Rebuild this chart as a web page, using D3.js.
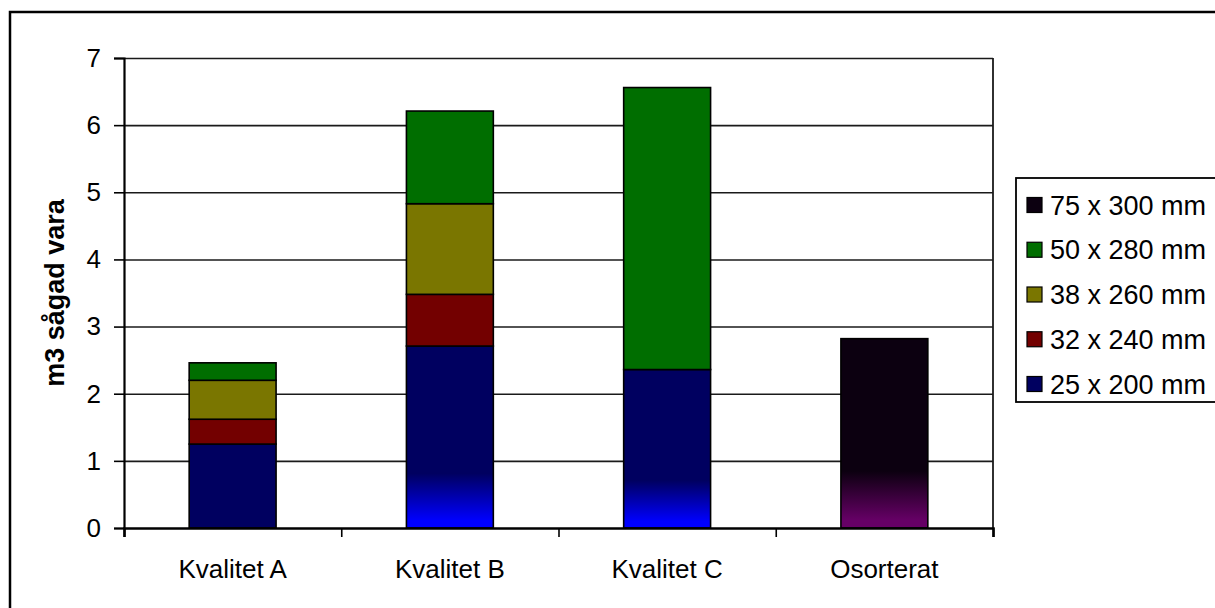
<!DOCTYPE html>
<html>
<head>
<meta charset="utf-8">
<script src="https://cdn.jsdelivr.net/npm/d3@7/dist/d3.min.js"></script>
<style>
  html, body { margin: 0; padding: 0; background: #fff; }
  svg { display: block; font-family: "Liberation Sans", Arial, sans-serif; }
</style>
</head>
<body>
<svg id="chart" width="1215" height="608"></svg>
<script>
// Sawn timber volume per quality class, stacked by board dimension
const categories = ["Kvalitet A", "Kvalitet B", "Kvalitet C", "Osorterat"];
const seriesNames = ["25 x 200 mm", "32 x 240 mm", "38 x 260 mm", "50 x 280 mm", "75 x 300 mm"];
const s25x200 = [1.25, 2.71, 2.36, 0];
const s32x240 = [0.37, 0.77, 0, 0];
const s38x260 = [0.58, 1.35, 0, 0];
const s50x280 = [0.26, 1.38, 4.20, 0];
const s75x300 = [0, 0, 0, 2.82];
const yTicks = [0, 1, 2, 3, 4, 5, 6, 7];
const yLabel = "m3 sågad vara";

const seriesValues = [s25x200, s32x240, s38x260, s50x280, s75x300];
const colors = ["#000060", "#730000", "#7a7600", "#006e00", "#0c0010"];
const glowColors = ["#0000ff", null, null, null, "#660066"];

const rows = categories.map((c, i) => {
  const r = { category: c };
  seriesNames.forEach((s, k) => { r[s] = seriesValues[k][i]; });
  return r;
});
const stacked = d3.stack().keys(seriesNames)(rows);

const svg = d3.select("#chart");
const plot = { left: 124, right: 993, top: 58, bottom: 528 };

// outer chart frame
svg.append("rect")
  .attr("x", 10).attr("y", 12).attr("width", 1230).attr("height", 620)
  .attr("fill", "none").attr("stroke", "#000").attr("stroke-width", 2.5);

const x = d3.scaleBand().domain(categories).range([plot.left, plot.right]).paddingInner(0).paddingOuter(0);
const y = d3.scaleLinear().domain([0, 7]).range([plot.bottom, plot.top]);

// gradients for tall base segments
const defs = svg.append("defs");
seriesNames.forEach((s, k) => {
  if (!glowColors[k]) return;
  const g = defs.append("linearGradient").attr("id", "glow" + k)
    .attr("x1", 0).attr("y1", 0).attr("x2", 0).attr("y2", 1);
  g.append("stop").attr("offset", 0).attr("stop-color", colors[k]);
  g.append("stop").attr("offset", 0.70).attr("stop-color", colors[k]);
  g.append("stop").attr("offset", 0.96).attr("stop-color", glowColors[k]);
  g.append("stop").attr("offset", 1).attr("stop-color", glowColors[k]);
});

// horizontal gridlines
svg.append("g")
  .attr("transform", `translate(${plot.left},0)`)
  .call(d3.axisLeft(y).tickValues(yTicks.filter(v => v > 0)).tickSize(-(plot.right - plot.left)).tickFormat(""))
  .call(g => g.select(".domain").remove())
  .call(g => g.selectAll("line").attr("stroke", "#1a1a1a").attr("stroke-width", 1.6));

// right edge of plot area
svg.append("line")
  .attr("x1", plot.right).attr("x2", plot.right).attr("y1", plot.top).attr("y2", plot.bottom)
  .attr("stroke", "#1a1a1a").attr("stroke-width", 1.8);

// stacked bars
const barW = x.bandwidth() * 0.4;
stacked.forEach((layer, k) => {
  svg.append("g").selectAll("rect")
    .data(layer.filter(d => d[1] - d[0] > 0))
    .join("rect")
    .attr("x", d => x(d.data.category) + (x.bandwidth() - barW) / 2)
    .attr("y", d => y(d[1]))
    .attr("width", barW)
    .attr("height", d => y(d[0]) - y(d[1]))
    .attr("fill", d => (glowColors[k] && d[0] === 0 && d[1] >= 2) ? `url(#glow${k})` : colors[k])
    .attr("stroke", "#000").attr("stroke-width", 1.6);
});

// y axis
svg.append("g")
  .attr("transform", `translate(${plot.left},0)`)
  .call(d3.axisLeft(y).tickValues(yTicks).tickSize(10).tickPadding(13).tickFormat(d3.format("d")))
  .call(g => g.select(".domain").attr("stroke", "#000").attr("stroke-width", 2.2))
  .call(g => g.selectAll(".tick line").attr("stroke", "#000").attr("stroke-width", 1.6))
  .call(g => g.selectAll("text").attr("font-size", 26).attr("fill", "#000")
    .attr("font-family", "'Liberation Sans', Arial, sans-serif"));

// x axis: ticks at category boundaries
const xb = d3.scaleLinear().domain([0, categories.length]).range([plot.left, plot.right]);
svg.append("g")
  .attr("transform", `translate(0,${plot.bottom})`)
  .call(d3.axisBottom(xb).tickValues(d3.range(categories.length + 1)).tickSize(9).tickFormat(""))
  .call(g => g.select(".domain").attr("stroke", "#000").attr("stroke-width", 2.6))
  .call(g => g.selectAll(".tick line").attr("stroke", "#000").attr("stroke-width", 1.6));

svg.append("g").selectAll("text")
  .data(categories)
  .join("text")
  .attr("x", d => x(d) + x.bandwidth() / 2)
  .attr("y", 578)
  .attr("text-anchor", "middle")
  .attr("font-size", 26)
  .attr("fill", "#000")
  .text(d => d);

// y axis title
svg.append("text")
  .attr("transform", `translate(64,${(plot.top + plot.bottom) / 2}) rotate(-90)`)
  .attr("text-anchor", "middle")
  .attr("font-size", 27)
  .attr("font-weight", "bold")
  .attr("fill", "#000")
  .text(yLabel);

// legend (top series first)
const legend = svg.append("g");
legend.append("rect")
  .attr("x", 1016).attr("y", 178).attr("width", 230).attr("height", 224)
  .attr("fill", "#fff").attr("stroke", "#000").attr("stroke-width", 1.8);
const legendOrder = seriesNames.map((s, k) => k).reverse();
const ly = d3.scalePoint().domain(legendOrder).range([205, 384]);
const items = legend.selectAll("g.item").data(legendOrder).join("g").attr("class", "item")
  .attr("transform", k => `translate(0,${ly(k)})`);
items.append("rect")
  .attr("x", 1027).attr("y", -7.5).attr("width", 15).attr("height", 15)
  .attr("fill", k => colors[k]).attr("stroke", "#000").attr("stroke-width", 1.2);
items.append("text")
  .attr("x", 1050).attr("dy", "0.36em")
  .attr("font-size", 27).attr("fill", "#000")
  .text(k => seriesNames[k]);
</script>
</body>
</html>
